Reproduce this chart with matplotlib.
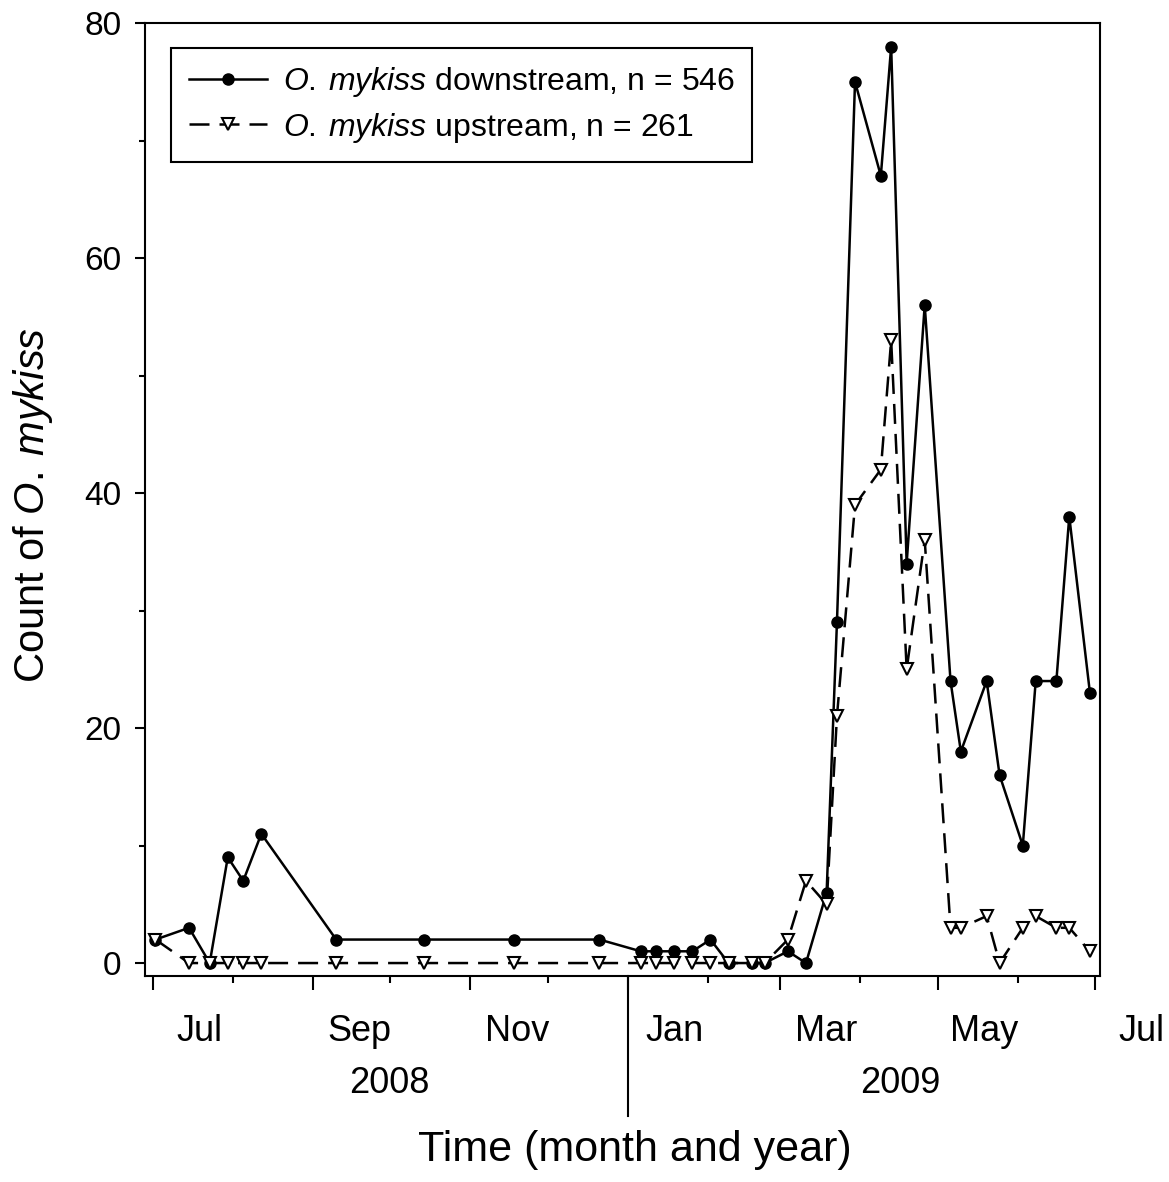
"""
Weekly counts of O. mykiss at the downstream and upstream traps, Jul 2008 - Jun 2009.
"""
import matplotlib

matplotlib.use("Agg")
import matplotlib.pyplot as plt
import matplotlib.dates as mdates
from matplotlib.ticker import MultipleLocator
import numpy as np
import pandas as pd

plt.rcParams["font.family"] = ["Liberation Sans", "DejaVu Sans"]
plt.rcParams["mathtext.fontset"] = "custom"
plt.rcParams["mathtext.rm"] = "Liberation Sans"
plt.rcParams["mathtext.it"] = "Liberation Sans:italic"

# sampling dates (shared by both traps)
sample_dates = [
    "2008-07-02", "2008-07-15", "2008-07-23", "2008-07-30", "2008-08-05", "2008-08-12",
    "2008-09-10", "2008-10-14", "2008-11-18", "2008-12-21",
    "2009-01-06", "2009-01-12", "2009-01-19", "2009-01-26", "2009-02-02", "2009-02-09",
    "2009-02-18", "2009-02-23", "2009-03-04", "2009-03-11", "2009-03-19", "2009-03-23",
    "2009-03-30", "2009-04-09", "2009-04-13", "2009-04-19", "2009-04-26",
    "2009-05-06", "2009-05-10", "2009-05-20", "2009-05-25",
    "2009-06-03", "2009-06-08", "2009-06-16", "2009-06-21", "2009-06-29",
]
downstream = [
    2, 3, 0, 9, 7, 11,
    2, 2, 2, 2,
    1, 1, 1, 1, 2, 0,
    0, 0, 1, 0, 6, 29,
    75, 67, 78, 34, 56,
    24, 18, 24, 16,
    10, 24, 24, 38, 23,
]
upstream = [
    2, 0, 0, 0, 0, 0,
    0, 0, 0, 0,
    0, 0, 0, 0, 0, 0,
    0, 0, 2, 7, 5, 21,
    39, 42, 53, 25, 36,
    3, 3, 4, 0,
    3, 4, 3, 3, 1,
]
species = r"$\mathit{O.\:mykiss}$"
label_down = species + " downstream, n = 546"
label_up = species + " upstream, n = 261"

month_names = ["Jul", "Sep", "Nov", "Jan", "Mar", "May", "Jul"]
year_names = ["2008", "2009"]
year_spans = [("2008-07-01", "2008-12-31"), ("2009-01-01", "2009-07-31")]

dates = pd.to_datetime(sample_dates)

fig = plt.figure(figsize=(11.69, 11.82), dpi=100)
ax = fig.add_axes([0.1240, 0.1743, 0.8170, 0.8062])

ax.plot(dates, downstream, color="black", lw=1.8, marker="o", ms=8,
        mfc="black", mec="black", label=label_down, zorder=3)
ax.plot(dates, upstream, color="black", lw=1.8, ls=(0, (8, 4)), marker="v", ms=9,
        mfc="white", mec="black", mew=1.5, label=label_up, zorder=4)

ax.set_xlim(pd.Timestamp("2008-06-27 22:00"), pd.Timestamp("2009-07-02 22:00"))
ax.set_ylim(-1.1, 80)

# y axis
ax.yaxis.set_major_locator(MultipleLocator(20))
ax.yaxis.set_minor_locator(MultipleLocator(10))
ax.tick_params(axis="y", which="major", length=7, width=1.5, labelsize=24, pad=10)
ax.tick_params(axis="y", which="minor", length=4, width=1.5)

# x axis: month ticks, labels written between ticks
ax.xaxis.set_major_locator(mdates.MonthLocator(bymonth=[1, 3, 5, 7, 9, 11]))
ax.xaxis.set_minor_locator(mdates.MonthLocator(bymonth=[2, 4, 6, 8, 10, 12]))
ax.xaxis.set_major_formatter(plt.NullFormatter())
ax.tick_params(axis="x", which="major", length=10, width=1.5)
ax.tick_params(axis="x", which="minor", length=5, width=1.5)

for s in ax.spines.values():
    s.set_linewidth(1.5)

trans = ax.get_xaxis_transform()
label_pos = pd.date_range("2008-07-01", "2009-07-01", freq="2MS") + pd.Timedelta(days=18)
for d, name in zip(label_pos, month_names):
    ax.text(d, -0.058, name, transform=trans, ha="center", va="center", fontsize=26)
for (a, b), name in zip(year_spans, year_names):
    mid = pd.Timestamp(a) + (pd.Timestamp(b) - pd.Timestamp(a)) / 2
    ax.text(mid, -0.113, name, transform=trans, ha="center", va="center", fontsize=26)

# year separator
jan1 = pd.Timestamp("2009-01-01")
ax.plot([jan1, jan1], [0, -0.147], transform=trans, color="black", lw=1.5, clip_on=False)

ax.set_xlabel("Time (month and year)", fontsize=31)
ax.xaxis.label.set_va("center")
ax.xaxis.set_label_coords(0.513, -0.1826)
ax.set_ylabel("Count of " + species, fontsize=30)
ax.yaxis.label.set_va("center")
ax.yaxis.set_label_coords(-0.117, 0.494)

leg = ax.legend(loc="upper left", bbox_to_anchor=(0.0272, 0.974), borderaxespad=0,
                fontsize=23, handlelength=2.45, handletextpad=0.5, borderpad=0.55,
                labelspacing=0.35, fancybox=False, framealpha=1, edgecolor="black")
leg.get_frame().set_linewidth(1.5)

fig.savefig("out.png", dpi=100)
